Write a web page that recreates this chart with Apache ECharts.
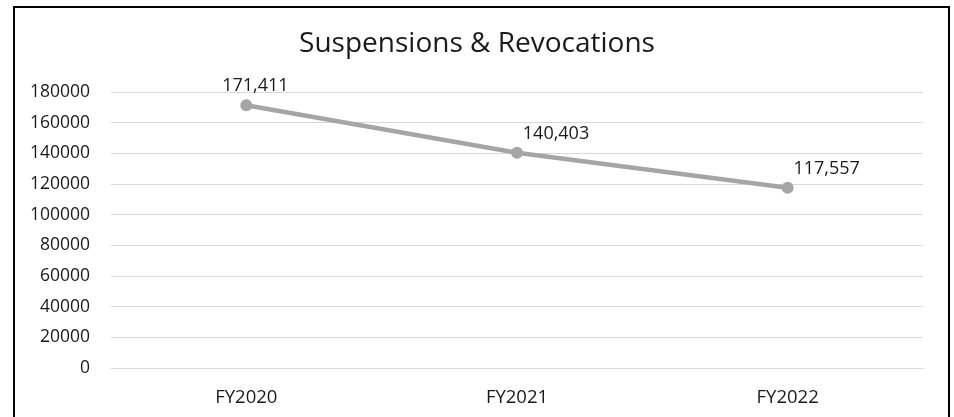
<!DOCTYPE html>
<html>
<head>
<meta charset="utf-8">
<script src="https://cdn.jsdelivr.net/npm/echarts@6/dist/echarts.min.js"></script>
<style>
  html, body { margin:0; padding:0; background:#fff; }
  #chart { width:954px; height:417px; }
</style>
</head>
<body>
<div id="chart"></div>
<script>
// ====== data ======
const years  = ['FY2020', 'FY2021', 'FY2022'];
const counts = [171411, 140403, 117557];

const FONT = '"Open Sans", "Noto Sans", sans-serif';
const TXT = '#1a1a1a';
// label nudges to the right, like the original
const labelShift = [9, 39, 39];

const chart = echarts.init(document.getElementById('chart'));

chart.setOption({
  animation: false,
  title: {
    text: 'Suspensions & Revocations',
    left: 'center',
    top: 25,
    textStyle: { fontFamily: FONT, fontSize: 28, fontWeight: 'normal', color: TXT }
  },
  grid: { left: 111, right: 31, top: 92, bottom: 49 },
  xAxis: {
    type: 'category',
    data: years,
    axisLine: { lineStyle: { color: '#d9d9d9' } },
    axisTick: { show: false },
    axisLabel: { fontFamily: FONT, fontSize: 18.5, color: TXT, margin: 20 }
  },
  yAxis: {
    type: 'value',
    min: 0, max: 180000, interval: 20000,
    axisLine: { show: false },
    axisTick: { show: false },
    splitLine: { lineStyle: { color: '#d9d9d9' } },
    axisLabel: {
      fontFamily: FONT, fontSize: 17.5, color: TXT, margin: 21,
      formatter: (v) => String(v)
    }
  },
  series: [{
    type: 'line',
    data: counts.map((v, i) => ({
      value: v,
      label: { offset: [labelShift[i], 0] }
    })),
    symbol: 'circle',
    symbolSize: 12,
    lineStyle: { color: '#a5a5a5', width: 4.5 },
    itemStyle: { color: '#a5a5a5' },
    label: {
      show: true,
      position: 'top',
      distance: 4,
      fontFamily: FONT,
      fontSize: 18,
      color: TXT,
      formatter: (p) => p.value.toLocaleString('en-US')
    }
  }],
  graphic: [{
    type: 'rect',
    shape: { x: 14, y: 7, width: 935, height: 420 },
    style: { fill: 'none', stroke: '#000', lineWidth: 2 },
    silent: true
  }]
});
</script>
</body>
</html>
